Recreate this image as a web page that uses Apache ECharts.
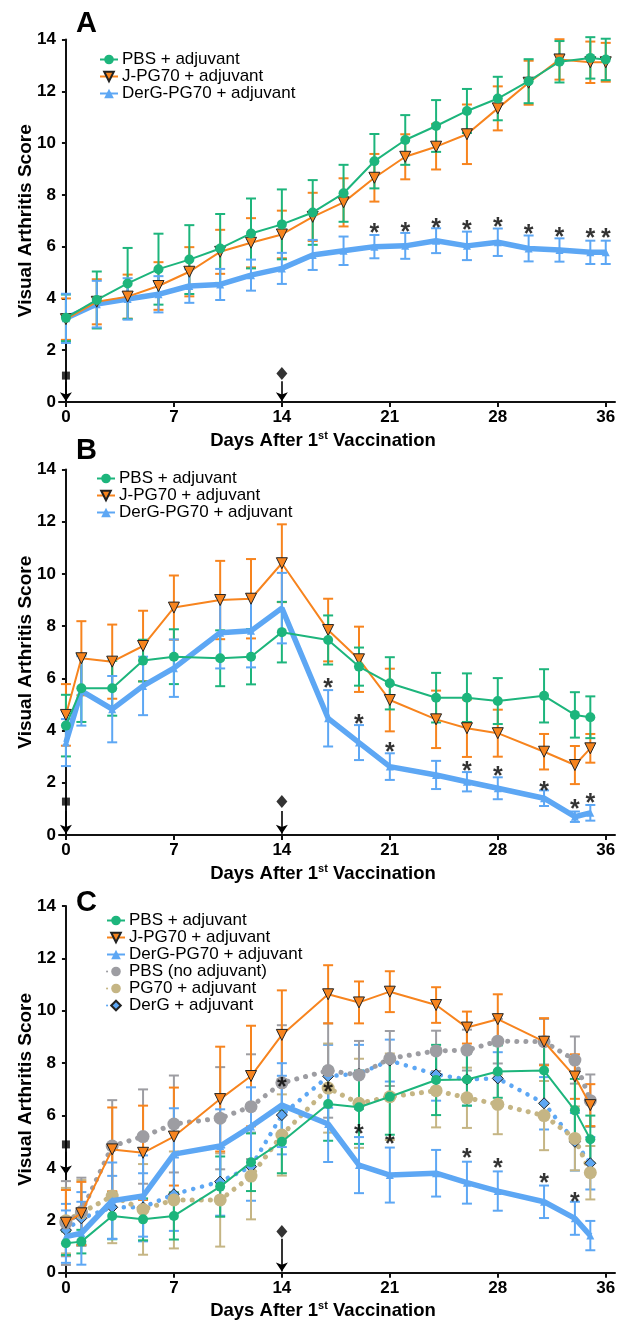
<!DOCTYPE html>
<html>
<head>
<meta charset="utf-8">
<script src="https://cdn.jsdelivr.net/npm/echarts@6.0.0/dist/echarts.min.js"></script>
<style>
html,body{margin:0;padding:0;background:#fff;}
#chart{width:622px;height:1324px;}
</style>
</head>
<body>
<div id="chart"></div>
<script>
// days of scoring
var daysA = [0,2,4,6,8,10,12,14,16,18,20,22,24,26,28,30,32,34,35];
var daysBC = [0,1,3,5,7,10,12,14,17,19,21,24,26,28,31,33,34];
var tickDays = [0,7,14,21,28,35];
var tickText = ['0','7','14','21','28','36'];

// panel A
var pbsA = [3.25,3.94,4.58,5.13,5.5,5.93,6.51,6.86,7.32,8.06,9.3,10.12,10.66,11.24,11.72,12.39,13.14,13.29,13.23];
var pbsAerr = [0.9,1.1,1.37,1.37,1.33,1.33,1.35,1.35,1.25,1.1,1.05,0.96,1.0,0.85,0.84,0.85,0.8,0.8,0.8];
var jpgA = [3.2,3.87,4.07,4.48,5.03,5.8,6.15,6.47,7.15,7.71,8.66,9.47,9.86,10.34,11.34,12.33,13.23,13.12,13.12];
var jpgAerr = [0.8,0.87,0.85,0.92,0.95,0.85,0.95,0.92,0.93,0.93,0.92,0.87,0.88,1.15,0.85,0.85,0.78,0.8,0.75];
var dpgA = [3.23,3.78,3.98,4.16,4.48,4.54,4.9,5.16,5.68,5.84,6.0,6.03,6.23,6.03,6.17,5.93,5.87,5.78,5.78];
var dpgAerr = [0.95,0.9,0.8,0.7,0.65,0.6,0.6,0.6,0.58,0.55,0.45,0.5,0.48,0.55,0.53,0.5,0.45,0.45,0.45];
var starDaysA = [20,22,24,26,28,30,32,34,35];
var starYA = [6.7,6.77,6.92,6.83,6.96,6.67,6.58,6.51,6.51];

// panel B
var pbsB = [4.19,5.62,5.62,6.68,6.83,6.77,6.83,7.77,7.47,6.45,5.81,5.26,5.26,5.13,5.33,4.6,4.51];
var pbsBerr = [1.18,1.29,1.05,0.8,1.05,1.07,1.06,1.16,0.94,0.73,1.0,0.95,0.93,0.88,1.02,0.87,0.8];
var jpgB = [4.6,6.77,6.64,7.24,8.71,9.0,9.05,10.41,7.85,6.73,5.17,4.43,4.09,3.9,3.19,2.68,3.32];
var jpgBerr = [1.18,1.42,1.42,1.35,1.23,1.5,1.52,1.49,1.2,1.25,1.2,1.1,1.1,0.9,0.68,0.73,0.55];
var dpgB = [3.54,5.52,4.82,5.71,6.39,7.75,7.82,8.69,4.47,3.54,2.62,2.3,2.04,1.79,1.41,0.7,0.85];
var dpgBerr = [0.9,1.33,1.27,1.12,1.1,1.37,1.4,1.35,1.08,0.67,0.51,0.54,0.37,0.42,0.3,0.2,0.3];
var starDaysB = [17,19,21,26,28,31,33,34];
var starYB = [5.8,4.44,3.38,2.64,2.46,1.89,1.18,1.43];

// panel C
var pbsC = [1.13,1.19,2.17,2.04,2.17,3.29,4.22,5.0,6.44,6.32,6.72,7.36,7.38,7.68,7.72,6.2,5.1];
var pbsCerr = [0.45,0.45,0.89,0.8,0.9,1.15,1.1,1.2,1.4,1.4,1.45,1.34,1.0,1.0,1.27,1.2,0.9];
var jpgC = [1.91,2.27,4.71,4.58,5.2,6.63,7.51,9.08,10.63,10.32,10.73,10.22,9.36,9.68,8.82,7.49,6.4];
var jpgCerr = [1.25,1.2,1.6,1.8,1.87,2.0,1.92,1.7,1.11,0.8,0.78,0.68,0.61,0.95,0.9,0.85,0.8];
var dpgC = [1.38,1.51,2.75,2.93,4.53,4.84,5.58,6.4,5.68,4.11,3.73,3.8,3.44,3.12,2.71,2.08,1.42];
var dpgCerr = [1.0,1.2,1.46,1.55,1.75,1.4,1.5,1.6,1.45,1.07,1.05,0.89,0.8,0.75,0.62,0.63,0.56];
var pbsNoC = [1.9,2.33,4.84,5.2,5.68,5.9,6.34,7.25,7.72,7.55,8.18,8.47,8.5,8.84,8.82,8.12,6.57];
var pbsNoCerr = [1.6,1.3,1.75,1.8,1.85,1.95,2.0,2.2,1.8,1.3,1.05,0.77,0.78,0.85,0.87,0.9,1.0];
var pg70C = [1.99,2.29,2.93,2.42,2.78,2.78,3.69,5.26,7.05,6.47,6.72,6.95,6.68,6.43,6.0,5.13,3.82];
var pg70Cerr = [1.25,1.25,1.8,1.73,1.85,1.78,1.65,1.55,1.7,1.7,1.65,1.4,1.15,1.14,1.32,1.22,1.02];
var dergC = [1.63,2.08,2.5,2.5,3.0,3.48,4.05,6.02,7.5,7.6,8.1,7.57,7.38,7.42,6.47,5.0,4.18];
var dergCerr = [1.0,1.0,1.2,1.3,1.4,1.3,1.3,1.5,1.2,1.1,0.8,1.0,1.0,1.0,1.0,1.1,1.0];
var starDaysC = [14,17,19,21,26,28,31,33];
var starYC = [7.26,7.07,5.48,5.1,4.56,4.18,3.6,2.9];

// vaccination marks (square = 1st, diamond = 2nd) and arrow spans
var markA = [[0,1.02],[14,1.1]];
var arrowA = [[0,0.78,0.03],[14,0.8,0.03]];
var markB = [[0,1.28],[14,1.28]];
var arrowB = [[0,0.92,0.05],[14,0.92,0.05]];
var markC = [[0,4.9],[14,1.58]];
var arrowC = [[0,4.62,3.75],[14,1.3,0.05]];

var names = ['PBS + adjuvant','J-PG70 + adjuvant','DerG-PG70 + adjuvant','PBS (no adjuvant)','PG70 + adjuvant','DerG + adjuvant'];
var GREEN = '#1db57c', ORANGE = '#f7841e', BLUE = '#5da7f4', GRAY = '#9d9da2', TAN = '#c5b584';
var FONT = '"Liberation Sans", Arial, sans-serif';

function zip(d, v) {
    var out = [];
    for (var i = 0; i < d.length; i++) out.push([d[i], v[i]]);
    return out;
}

function errBars(gi, days, mean, sem, color, w) {
    var d = [];
    for (var i = 0; i < days.length; i++) d.push([days[i], mean[i] - sem[i], mean[i] + sem[i]]);
    return {
        type: 'custom', name: 'err', xAxisIndex: gi, yAxisIndex: gi, data: d, z: 2, silent: true,
        renderItem: function (params, api) {
            var t = api.coord([api.value(0), api.value(2)]);
            var b = api.coord([api.value(0), api.value(1)]);
            var st = {stroke: color, lineWidth: w};
            return {type: 'group', children: [
                {type: 'line', shape: {x1: t[0], y1: t[1], x2: b[0], y2: b[1]}, style: st},
                {type: 'line', shape: {x1: t[0] - 5, y1: t[1], x2: t[0] + 5, y2: t[1]}, style: st},
                {type: 'line', shape: {x1: b[0] - 5, y1: b[1], x2: b[0] + 5, y2: b[1]}, style: st}
            ]};
        }
    };
}

// line styles for each group
var look = {
    'PBS + adjuvant': {symbol: 'circle', symbolSize: 10, symbolRotate: 0, itemStyle: {color: GREEN}, lineStyle: {color: GREEN, width: 2}},
    'J-PG70 + adjuvant': {symbol: 'triangle', symbolSize: 11, symbolRotate: 180, itemStyle: {color: ORANGE, borderColor: '#222', borderWidth: 1}, lineStyle: {color: ORANGE, width: 2}},
    'DerG-PG70 + adjuvant': {symbol: 'triangle', symbolSize: 8, symbolRotate: 0, itemStyle: {color: BLUE}, lineStyle: {color: BLUE, width: 5.5}},
    'PBS (no adjuvant)': {symbol: 'circle', symbolSize: 13, symbolRotate: 0, itemStyle: {color: GRAY}, lineStyle: {color: GRAY, width: 5, type: [0.1, 9], cap: 'round'}},
    'PG70 + adjuvant': {symbol: 'circle', symbolSize: 13, symbolRotate: 0, itemStyle: {color: TAN}, lineStyle: {color: TAN, width: 5, type: [0.1, 9], cap: 'round'}},
    'DerG + adjuvant': {symbol: 'diamond', symbolSize: 11, symbolRotate: 0, itemStyle: {color: BLUE, borderColor: '#222', borderWidth: 1}, lineStyle: {color: BLUE, width: 4.5, type: [0.1, 9], cap: 'round'}}
};

function lineSer(gi, name, days, mean, z) {
    var l = look[name];
    return {
        type: 'line', name: name, xAxisIndex: gi, yAxisIndex: gi, data: zip(days, mean), z: z,
        symbol: l.symbol, symbolSize: l.symbolSize, symbolRotate: l.symbolRotate, showAllSymbol: true,
        itemStyle: l.itemStyle, lineStyle: l.lineStyle, silent: true, animation: false
    };
}

function stars(gi, days, ys) {
    return {
        type: 'scatter', name: 'star', xAxisIndex: gi, yAxisIndex: gi, data: zip(days, ys), z: 6,
        symbolSize: 1, itemStyle: {color: 'rgba(0,0,0,0)'}, silent: true,
        label: {show: true, position: 'inside', formatter: '*', color: '#000', fontSize: 25, fontWeight: 'bold', fontFamily: FONT, offset: [0, 6]}
    };
}

function marks(gi, pts, arrows) {
    var lines = [];
    for (var i = 0; i < arrows.length; i++) {
        lines.push([{coord: [arrows[i][0], arrows[i][1]]}, {coord: [arrows[i][0], arrows[i][2]]}]);
    }
    return {
        type: 'scatter', name: 'mark', xAxisIndex: gi, yAxisIndex: gi, z: 6, silent: true,
        data: [
            {value: pts[0], symbol: 'rect', symbolSize: 8},
            {value: pts[1], symbol: 'diamond', symbolSize: [11, 13]}
        ],
        itemStyle: {color: '#000'},
        markLine: {
            silent: true, symbol: ['none', 'arrow'], symbolSize: 9, animation: false,
            lineStyle: {color: '#000', width: 1.6, type: 'solid'},
            label: {show: false}, data: lines
        }
    };
}

var tops = [39.5, 469.5, 906];
var bottoms = [402, 835, 1272.8];
var grids = [], xAxes = [], yAxes = [];
for (var g = 0; g < 3; g++) {
    grids.push({left: 59, right: 7, top: tops[g], height: bottoms[g] - tops[g]});
    xAxes.push({
        type: 'value', gridIndex: g, min: -0.45, max: 35.6,
        name: '{b|Days After 1}{s|st}{b| Vaccination}', nameLocation: 'middle', nameGap: 28,
        nameTextStyle: {padding: [0, 28, 0, 0], rich: {
            b: {fontFamily: FONT, fontWeight: 'bold', fontSize: 18.5, color: '#000', lineHeight: 20, verticalAlign: 'bottom'},
            s: {fontFamily: FONT, fontWeight: 'bold', fontSize: 11, color: '#000', lineHeight: 20, verticalAlign: 'top', padding: [0, 0, 9, 0]}
        }},
        axisLine: {lineStyle: {color: '#111', width: 2}},
        axisTick: {length: 5, lineStyle: {width: 2, color: '#111'}, customValues: tickDays},
        axisLabel: {customValues: tickDays, color: '#000', fontFamily: FONT, fontWeight: 'bold', fontSize: 17, margin: 7,
            formatter: function (v) { return tickText[tickDays.indexOf(v)]; }},
        splitLine: {show: false}
    });
    yAxes.push({
        type: 'value', gridIndex: g, min: 0, max: 14, interval: 2,
        name: 'Visual Arthritis Score', nameLocation: 'middle', nameGap: 24, nameRotate: 90, nameMoveOverlap: false,
        nameTextStyle: {fontFamily: FONT, fontWeight: 'bold', fontSize: 19, color: '#000'},
        axisLine: {show: true, lineStyle: {color: '#111', width: 2}},
        axisTick: {show: true, length: 4, lineStyle: {width: 2, color: '#111'}},
        axisLabel: {color: '#000', fontFamily: FONT, fontWeight: 'bold', fontSize: 17, margin: 3},
        splitLine: {show: false}
    });
}

var series = [
    // A
    errBars(0, daysA, jpgA, jpgAerr, ORANGE, 2),
    errBars(0, daysA, pbsA, pbsAerr, GREEN, 2),
    errBars(0, daysA, dpgA, dpgAerr, BLUE, 2),
    lineSer(0, names[2], daysA, dpgA, 3),
    lineSer(0, names[1], daysA, jpgA, 4),
    lineSer(0, names[0], daysA, pbsA, 5),
    stars(0, starDaysA, starYA),
    marks(0, markA, arrowA),
    // B
    errBars(1, daysBC, jpgB, jpgBerr, ORANGE, 2),
    errBars(1, daysBC, pbsB, pbsBerr, GREEN, 2),
    errBars(1, daysBC, dpgB, dpgBerr, BLUE, 2),
    lineSer(1, names[2], daysBC, dpgB, 3),
    lineSer(1, names[1], daysBC, jpgB, 4),
    lineSer(1, names[0], daysBC, pbsB, 5),
    stars(1, starDaysB, starYB),
    marks(1, markB, arrowB),
    // C
    errBars(2, daysBC, dergC, dergCerr, BLUE, 2),
    errBars(2, daysBC, pg70C, pg70Cerr, TAN, 2),
    errBars(2, daysBC, pbsNoC, pbsNoCerr, GRAY, 2),
    errBars(2, daysBC, jpgC, jpgCerr, ORANGE, 2),
    errBars(2, daysBC, pbsC, pbsCerr, GREEN, 2),
    errBars(2, daysBC, dpgC, dpgCerr, BLUE, 2),
    lineSer(2, names[5], daysBC, dergC, 3),
    lineSer(2, names[4], daysBC, pg70C, 3),
    lineSer(2, names[3], daysBC, pbsNoC, 3),
    lineSer(2, names[2], daysBC, dpgC, 4),
    lineSer(2, names[1], daysBC, jpgC, 4),
    lineSer(2, names[0], daysBC, pbsC, 5),
    stars(2, starDaysC, starYC),
    marks(2, markC, arrowC)
];

function legendAt(left, top, n, lh) {
    return {
        orient: 'vertical', left: left, top: top, padding: 0, itemGap: 0,
        itemWidth: 18, itemHeight: 12, selectedMode: false,
        data: names.slice(0, n),
        textStyle: {fontFamily: FONT, fontSize: 17, color: '#000', lineHeight: lh, padding: [0, 0, 0, -1]}
    };
}

var panelLetter = function (txt, y) {
    return {type: 'text', left: 76, top: y, silent: true,
        style: {text: txt, fontFamily: FONT, fontWeight: 'bold', fontSize: 29, fill: '#000'}};
};

var option = {
    animation: false,
    backgroundColor: '#fff',
    grid: grids,
    xAxis: xAxes,
    yAxis: yAxes,
    legend: [legendAt(99, 51, 3, 16.7), legendAt(96, 470, 3, 15), legendAt(106, 912, 6, 15.9)],
    graphic: [panelLetter('A', 9), panelLetter('B', 436), panelLetter('C', 888)],
    series: series
};

var myChart = echarts.init(document.getElementById('chart'), null, {renderer: 'canvas'});
option && myChart.setOption(option);
</script>
</body>
</html>
